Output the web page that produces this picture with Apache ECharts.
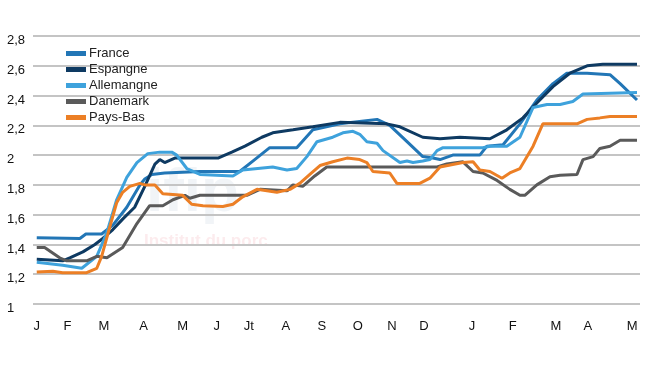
<!DOCTYPE html>
<html>
<head>
<meta charset="utf-8">
<script src="https://cdn.jsdelivr.net/npm/echarts@6/dist/echarts.min.js"></script>
<style>html,body{margin:0;padding:0;background:#fff;}#c{width:650px;height:366px;}</style>
</head>
<body>
<div id="c"></div>
<script>
// x = time in months from the first January (0) to the May of the following year (16)
const monthLabels = ['J','F','M','A','M','J','Jt','A','S','O','N','D','J','F','M','A','M'];
const monthTicks  = [0,0.82,1.79,2.85,3.89,4.8,5.65,6.64,7.6,8.56,9.47,10.32,11.6,12.69,13.84,14.69,15.87];
const yTicks = [1,1.2,1.4,1.6,1.8,2,2.2,2.4,2.6,2.8];

const france = [[0,1.445],[1.15,1.44],[1.31,1.47],[1.73,1.47],[2.03,1.53],[2.40,1.65],[2.75,1.80],[2.88,1.84],[3.07,1.87],[3.41,1.88],[4.35,1.89],[5.41,1.89],[5.81,1.97],[6.21,2.05],[6.93,2.05],[7.36,2.17],[8.08,2.21],[9.07,2.24],[9.41,2.20],[9.87,2.09],[10.29,1.99],[10.56,1.98],[10.75,1.97],[11.09,2.00],[11.81,2.00],[12.00,2.06],[12.43,2.07],[12.88,2.21],[13.33,2.37],[13.76,2.48],[14.13,2.55],[14.67,2.55],[15.28,2.54],[15.55,2.48],[16.00,2.37]];
const espagne = [[0,1.30],[0.35,1.295],[0.69,1.29],[0.88,1.31],[1.23,1.35],[1.55,1.40],[1.76,1.44],[2.03,1.50],[2.29,1.57],[2.61,1.65],[2.88,1.79],[3.15,1.94],[3.28,1.97],[3.41,1.95],[3.68,1.98],[4.83,1.98],[5.20,2.02],[5.55,2.06],[6.00,2.12],[6.29,2.15],[6.83,2.17],[7.36,2.19],[8.08,2.22],[9.33,2.21],[9.68,2.19],[10.29,2.12],[10.75,2.11],[11.28,2.12],[12.08,2.11],[12.53,2.17],[12.96,2.25],[13.33,2.35],[13.76,2.46],[14.21,2.55],[14.67,2.60],[15.09,2.61],[16.00,2.61]];
const allemagne = [[0,1.28],[0.69,1.26],[1.20,1.24],[1.60,1.32],[1.87,1.48],[2.13,1.70],[2.40,1.85],[2.67,1.95],[2.96,2.01],[3.28,2.02],[3.60,2.02],[3.73,2.00],[4.00,1.91],[4.35,1.87],[5.23,1.86],[5.49,1.90],[6.29,1.92],[6.67,1.90],[6.93,1.91],[7.20,1.99],[7.47,2.09],[7.89,2.12],[8.16,2.15],[8.43,2.16],[8.61,2.14],[8.80,2.09],[9.07,2.08],[9.23,2.03],[9.68,1.95],[9.87,1.96],[10.03,1.95],[10.29,1.96],[10.48,1.97],[10.67,2.03],[10.83,2.05],[11.89,2.05],[12.08,2.06],[12.53,2.06],[12.88,2.12],[13.23,2.32],[13.60,2.34],[13.95,2.34],[14.29,2.36],[14.56,2.41],[16.00,2.42]];
const danemark = [[0,1.38],[0.21,1.38],[0.61,1.31],[0.80,1.29],[1.33,1.29],[1.60,1.32],[1.87,1.31],[2.29,1.38],[2.67,1.54],[3.01,1.66],[3.36,1.66],[3.63,1.70],[3.95,1.73],[4.08,1.71],[4.35,1.73],[5.60,1.73],[5.95,1.77],[6.67,1.76],[6.83,1.80],[7.09,1.79],[7.41,1.86],[7.73,1.92],[10.67,1.92],[10.93,1.94],[11.36,1.955],[11.63,1.89],[11.89,1.88],[12.27,1.83],[12.61,1.77],[12.88,1.73],[13.01,1.73],[13.33,1.80],[13.68,1.855],[13.95,1.865],[14.40,1.87],[14.56,1.97],[14.83,1.99],[15.01,2.045],[15.28,2.06],[15.55,2.10],[16.00,2.10]];
const paysBas = [[0,1.215],[0.43,1.22],[0.69,1.21],[1.33,1.21],[1.60,1.24],[1.73,1.32],[1.95,1.52],[2.13,1.68],[2.29,1.75],[2.48,1.79],[2.75,1.81],[2.88,1.80],[3.15,1.80],[3.36,1.74],[3.89,1.73],[4.13,1.67],[4.43,1.66],[4.96,1.655],[5.23,1.67],[5.49,1.72],[5.87,1.77],[6.40,1.75],[6.75,1.77],[7.01,1.81],[7.28,1.87],[7.55,1.93],[7.89,1.955],[8.27,1.98],[8.61,1.97],[8.80,1.95],[8.96,1.89],[9.41,1.88],[9.60,1.81],[10.21,1.81],[10.48,1.845],[10.75,1.92],[11.36,1.95],[11.63,1.955],[11.81,1.90],[12.08,1.89],[12.40,1.845],[12.61,1.88],[12.88,1.91],[13.23,2.06],[13.49,2.21],[14.40,2.21],[14.67,2.24],[15.01,2.25],[15.28,2.26],[16.00,2.26]];

const seriesNames = ['France','Espangne','Allemangne','Danemark','Pays-Bas'];
const seriesData = [france, espagne, allemagne, danemark, paysBas];
const colors = ['#2276b6','#0e3a62','#3ea2dc','#5a5a5a','#ec7f25'];

const chart = echarts.init(document.getElementById('c'), null, {renderer:'canvas'});
const font = '"Liberation Sans", Arial, sans-serif';
chart.setOption({
  animation: false,
  color: colors,
  grid: {left: 33, right: 10, top: 36, bottom: 62, containLabel: false},
  legend: {
    orient: 'vertical', left: 61, top: 42,
    icon: 'rect', itemWidth: 20, itemHeight: 5, itemGap: 3,
    textStyle: {fontFamily: font, fontSize: 13, color: '#222', lineHeight: 13, padding: [0,0,0,-2]},
    data: seriesNames
  },
  graphic: [
    {type:'text', left: 146, top: 163, z: 0, silent: true,
     style:{text:'ifip', fontFamily: font, fontWeight:'bold', fontSize: 62, fill:'rgba(120,150,180,0.10)'}},
    {type:'text', left: 144, top: 233, z: 0, silent: true,
     style:{text:'Institut du porc', fontFamily: font, fontWeight:'bold', fontSize: 17, fill:'rgba(235,110,130,0.14)'}}
  ],
  xAxis: {
    type: 'value', min: -0.1, max: 16.08,
    axisLine: {show: false}, axisTick: {show: false}, splitLine: {show: false},
    axisLabel: {
      customValues: monthTicks,
      margin: 16,
      fontFamily: font, fontSize: 13, color: '#111',
      formatter: function (v) {
        let best = 0, d = 1e9;
        monthTicks.forEach(function (t, i) { if (Math.abs(t - v) < d) { d = Math.abs(t - v); best = i; } });
        return monthLabels[best];
      }
    }
  },
  yAxis: {
    type: 'value', min: yTicks[0], max: yTicks[yTicks.length-1], interval: 0.2,
    axisLine: {show: false}, axisTick: {show: false},
    splitLine: {show: true, lineStyle: {color: '#c4c4c4', width: 2}},
    axisLabel: {
      align: 'left', verticalAlign: 'top', lineHeight: 9, margin: 26,
      fontFamily: font, fontSize: 13, color: '#111',
      formatter: function (v) { return String(Math.round(v*10)/10).replace('.', ','); }
    }
  },
  series: seriesNames.map(function (n, i) {
    return {
      name: n, type: 'line', data: seriesData[i],
      showSymbol: false, symbol: 'none', smooth: false,
      lineStyle: {width: 3, color: colors[i]},
      itemStyle: {color: colors[i]}
    };
  })
});
</script>
</body>
</html>
